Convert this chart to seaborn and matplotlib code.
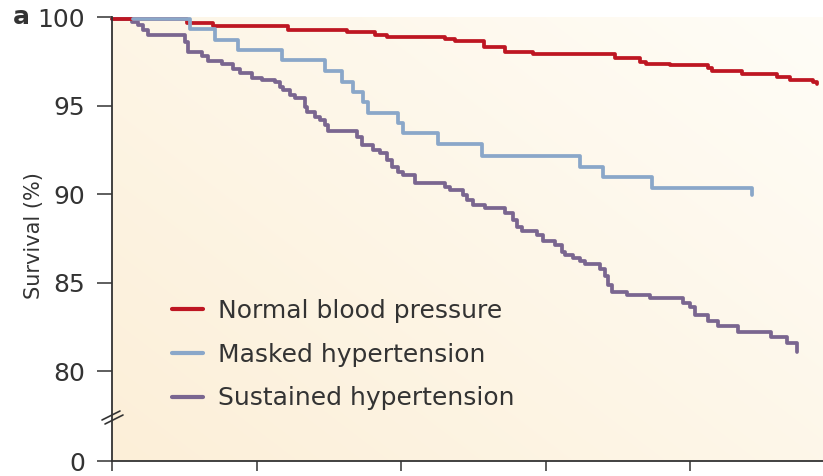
import numpy as np
import pandas as pd
import matplotlib
matplotlib.use("Agg")
import matplotlib.pyplot as plt
import seaborn as sns
from matplotlib.lines import Line2D

# ---------------- data (time in x-tick units, survival in %) ----------------
groups = ["Normal blood pressure", "Masked hypertension", "Sustained hypertension"]

normal_t = [0.000, 0.519, 0.699, 1.218, 1.626, 1.820, 1.903, 2.304, 2.374, 2.574,
            2.720, 2.913, 3.481, 3.654, 3.696, 3.862, 4.125, 4.152, 4.360, 4.602,
            4.692, 4.851, 4.879]
normal_s = [99.88, 99.66, 99.50, 99.27, 99.14, 98.98, 98.85, 98.76, 98.64, 98.30,
            98.02, 97.90, 97.70, 97.46, 97.34, 97.28, 97.10, 96.95, 96.78, 96.61,
            96.44, 96.33, 96.22]

masked_t = [0.145, 0.540, 0.713, 0.872, 1.176, 1.474, 1.592, 1.668, 1.737, 1.772,
            1.979, 2.014, 2.256, 2.561, 3.239, 3.398, 3.737, 4.429]
masked_s = [99.90, 99.31, 98.70, 98.14, 97.57, 96.97, 96.33, 95.76, 95.20, 94.58,
            94.01, 93.42, 92.80, 92.16, 91.54, 90.98, 90.32, 89.94]

sustained_t = [0.000, 0.138, 0.180, 0.215, 0.249, 0.505, 0.526, 0.623, 0.664, 0.761,
               0.837, 0.886, 0.969, 1.038, 1.128, 1.163, 1.183, 1.232, 1.266, 1.336,
               1.349, 1.405, 1.439, 1.474, 1.495, 1.696, 1.730, 1.806, 1.855, 1.903,
               1.938, 1.979, 2.014, 2.097, 2.304, 2.339, 2.429, 2.457, 2.498, 2.581,
               2.720, 2.775, 2.803, 2.837, 2.941, 2.983, 3.066, 3.114, 3.135, 3.190,
               3.239, 3.273, 3.377, 3.412, 3.433, 3.460, 3.564, 3.723, 3.952, 4.000,
               4.035, 4.125, 4.194, 4.332, 4.561, 4.671, 4.740]
sustained_s = [99.90, 99.73, 99.55, 99.27, 98.98, 98.56, 98.04, 97.80, 97.54, 97.34,
               97.06, 96.84, 96.57, 96.44, 96.30, 96.06, 95.88, 95.59, 95.41, 94.93,
               94.65, 94.37, 94.18, 93.90, 93.56, 93.24, 92.77, 92.49, 92.30, 91.92,
               91.54, 91.26, 91.07, 90.60, 90.41, 90.23, 89.94, 89.66, 89.38, 89.19,
               88.91, 88.53, 88.15, 87.93, 87.68, 87.34, 87.12, 86.72, 86.55, 86.37,
               86.21, 86.02, 85.79, 85.37, 84.86, 84.48, 84.27, 84.11, 83.87, 83.63,
               83.16, 82.80, 82.55, 82.19, 81.90, 81.56, 81.05]

colors = {"Normal blood pressure": "#BE1622",
          "Masked hypertension": "#8AA7C9",
          "Sustained hypertension": "#7A6690"}

ytick_vals = [80, 85, 90, 95, 100]
ytick_labels = ["80", "85", "90", "95", "100"]
xtick_vals = [0, 1, 2, 3, 4]

series = {"Normal blood pressure": (normal_t, normal_s),
          "Masked hypertension": (masked_t, masked_s),
          "Sustained hypertension": (sustained_t, sustained_s)}

# ---------------- figure ----------------
sns.set_theme(style="white")
plt.rcParams["font.family"] = ["DejaVu Sans"]

W, H = 823, 476
fig = plt.figure(figsize=(W / 100, H / 100), dpi=100)
fig.patch.set_facecolor("white")
ax = fig.add_axes([112 / W, 1 - 461 / H, (W - 112) / W, (461 - 17) / H])
ax.set_facecolor("none")

# gradient background
gx, gy = np.meshgrid(np.linspace(0, 1, 300), np.linspace(0, 1, 300))
tt = np.clip(0.55 * gx + 0.45 * gy, 0, 1)[..., None]
c0 = np.array([252, 239, 216]) / 255.0
c1 = np.array([255, 253, 247]) / 255.0
img = c0 + (c1 - c0) * tt
ax.imshow(img, extent=[0, 1, 0, 1], transform=ax.transAxes, origin="lower",
          aspect="auto", zorder=0, interpolation="bilinear")

draw_order = ["Sustained hypertension", "Normal blood pressure", "Masked hypertension"]
for g in draw_order:
    t, s = series[g]
    sns.lineplot(x=t, y=s, color=colors[g], label=g, drawstyle="steps-post",
                 estimator=None, sort=False, linewidth=2.7, ax=ax, zorder=3,
                 clip_on=False)

y0 = 80 - 90 / 17.7
ax.set_xlim(0, (W - 112) / 144.5)
ax.set_ylim(y0, 100)

ax.set_yticks([y0] + ytick_vals)
ax.set_yticklabels(["0"] + ytick_labels)
ax.set_xticks(xtick_vals)
ax.set_xticklabels([])

for side in ["top", "right"]:
    ax.spines[side].set_visible(False)
for side in ["left", "bottom"]:
    ax.spines[side].set_color("#333333")
    ax.spines[side].set_linewidth(1.3)
    ax.spines[side].set_zorder(4)

ax.tick_params(axis="y", which="both", direction="out", length=11, width=1.1,
               color="#333333", labelsize=18, labelcolor="#333333", pad=8.6, left=True)
ax.tick_params(axis="x", which="both", direction="out", length=7, width=1.1,
               color="#333333", bottom=True)
ax.set_xlabel("")
ax.set_ylabel("Survival (%)", fontsize=15, color="#333333")
ax.yaxis.set_label_coords((44 - 112) / (W - 112), 0.5 - (236 - 239) / 444)

# legend in reference order
handles, labels = ax.get_legend_handles_labels()
hmap = dict(zip(labels, handles))
leg = ax.legend([hmap[g] for g in groups], groups, loc="upper left",
                bbox_to_anchor=(172 / W, 1 - 299 / H), bbox_transform=fig.transFigure,
                frameon=False, fontsize=18, borderpad=0, borderaxespad=0,
                handlelength=1.25, handletextpad=0.6, labelspacing=0.79)
for txt in leg.get_texts():
    txt.set_color("#333333")
for lh in leg.get_lines():
    lh.set_linewidth(3.0)

# panel letter
fig.text(13 / W, 1 - 17 / H, "a", fontsize=18, fontweight="bold", color="#333333",
         ha="left", va="center")

# axis break marks
for dx, dy in [(0, 0), (3, 4)]:
    fig.add_artist(Line2D([(102 + dx) / W, (120 + dx) / W],
                          [1 - (420 + dy) / H, 1 - (411 + dy) / H],
                          color="#333333", lw=1.2))

fig.savefig("out.png", dpi=100)
